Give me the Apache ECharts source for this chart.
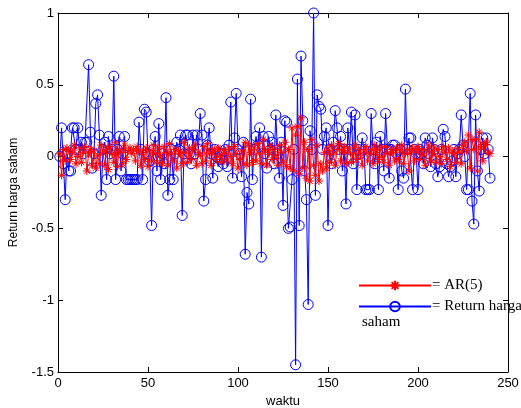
<!DOCTYPE html>
<html>
<head>
<meta charset="utf-8">
<script src="https://cdn.jsdelivr.net/npm/echarts@6/dist/echarts.min.js"></script>
<style>
  html, body { margin: 0; padding: 0; background: #fff; }
  #chart { width: 521px; height: 408px; }
</style>
</head>
<body>
<div id="chart"></div>
<script>
// return harga saham, t = 1..240
const returnHarga = [
  0, 0.2, -0.05, -0.3, 0.02, -0.1, -0.1, 0.2, 0.2, 0.05,
  0.2, 0.05, 0.1, 0.02, 0.1, 0.1, 0.64, 0.17, -0.08, 0.02,
  0.37, 0.43, 0.15, -0.27, 0.05, 0.1, -0.16, 0.14, 0.02, 0.05,
  0.56, -0.16, 0.05, 0.14, -0.1, 0.02, 0.14, -0.16, -0.16, -0.16,
  -0.16, -0.16, -0.16, -0.16, 0.24, 0.05, -0.16, 0.33, 0.31, 0.02,
  -0.03, -0.48, 0.05, 0.14, -0.1, 0.23, -0.16, 0.02, -0.05, 0.41,
  -0.27, -0.16, 0.05, -0.16, 0.02, 0.1, 0.05, 0.15, -0.41, 0.02,
  0.15, 0.15, 0.02, -0.05, 0.15, 0.02, 0.15, 0.05, 0.3, 0.15,
  -0.31, -0.16, 0.08, 0.2, 0.02, -0.15, 0.05, 0.0, -0.07, -0.02,
  0.02, -0.05, 0.05, -0.07, 0.08, 0.38, -0.15, 0.13, 0.44, 0.05,
  0.02, -0.14, 0.1, -0.68, -0.25, -0.33, 0.4, -0.16, 0.05, 0.14,
  0.08, 0.2, -0.7, 0.14, 0.02, -0.08, 0.14, 0.05, 0.1, -0.05,
  0.29, 0.02, -0.15, 0.1, -0.34, 0.25, 0.24, -0.5, -0.49, -0.16,
  0.05, -1.45, 0.54, -0.48, 0.7, 0.25, -0.1, -0.3, -1.03, 0.18,
  0.05, 1.0, -0.27, 0.43, 0.35, 0.33, 0.05, 0.14, 0.2, -0.48,
  0.05, -0.05, 0.1, 0.32, 0.2, 0.05, 0.14, -0.1, 0.05, -0.33,
  0.2, 0.05, 0.31, -0.05, 0.29, -0.23, 0.05, 0.02, 0.13, 0.05,
  -0.23, -0.23, -0.23, 0.3, 0.05, -0.05, 0.1, -0.23, 0.14, 0.05,
  -0.1, 0.3, 0.05, -0.15, 0.05, 0.08, 0.08, 0.02, -0.23, 0.05,
  -0.1, -0.15, 0.47, 0.05, 0.13, 0.13, -0.23, 0.05, 0.02, -0.23,
  0.05, 0.02, -0.05, 0.13, 0.08, 0.02, -0.07, 0.13, 0.05, -0.05,
  -0.14, -0.07, 0.05, 0.19, 0.14, -0.05, -0.14, -0.07, -0.03, 0.05,
  -0.14, 0.02, 0.05, 0.29, 0.08, 0.0, -0.23, -0.23, 0.44, -0.31,
  -0.47, 0.29, -0.1, -0.24, 0.05, 0.13, 0.02, 0.13, 0.05, -0.15
];
// AR(5) fit
const ar5 = [
  0.02, -0.13, 0.05, -0.03, 0.06, 0.04, -0.02, 0.03, 0.08, -0.05,
  0.0, 0.06, -0.04, 0.03, 0.07, -0.1, 0.02, 0.05, -0.06, 0.04,
  -0.08, 0.01, -0.05, 0.08, 0.03, -0.06, 0.05, -0.09, 0.07, 0.02,
  -0.04, 0.1, -0.07, 0.05, 0.03, -0.05, 0.08, -0.02, 0.04, 0.06,
  0.02, 0.05, -0.03, 0.07, 0.04, -0.06, 0.03, -0.02, 0.06, -0.07,
  0.04, -0.03, 0.08, 0.02, -0.04, 0.06, 0.01, -0.05, 0.07, 0.03,
  -0.06, 0.09, 0.02, -0.03, 0.05, -0.08, 0.04, 0.02, -0.05, 0.1,
  0.03, -0.04, 0.06, -0.02, 0.05, 0.08, -0.06, 0.03, 0.01, -0.05,
  0.07, -0.03, 0.09, 0.02, -0.06, 0.04, 0.05, -0.02, 0.06, 0.01,
  -0.04, 0.05, 0.02, -0.03, 0.06, 0.0, -0.05, 0.07, 0.02, -0.08,
  -0.02, 0.04, -0.05, 0.1, -0.06, 0.08, 0.03, -0.04, 0.06, -0.03,
  0.09, 0.02, -0.05, 0.12, 0.04, -0.06, 0.03, 0.07, -0.02, 0.05,
  0.01, -0.06, 0.08, 0.03, -0.04, 0.1, -0.07, 0.05, -0.08, 0.2,
  -0.1, 0.15, 0.21, -0.12, 0.27, -0.08, 0.1, -0.15, 0.05, -0.17,
  0.12, -0.06, -0.13, 0.08, -0.17, -0.05, -0.1, 0.03, -0.08, 0.06,
  -0.04, 0.08, 0.02, -0.06, 0.05, 0.09, -0.03, 0.04, 0.07, -0.05,
  0.03, 0.06, -0.04, 0.02, 0.08, -0.02, 0.05, 0.01, -0.06, 0.04,
  0.07, -0.03, 0.02, 0.05, -0.05, 0.08, 0.03, -0.02, 0.06, 0.0,
  -0.04, 0.07, 0.02, -0.06, 0.05, 0.03, -0.03, 0.06, -0.02, 0.04,
  0.08, -0.05, 0.02, 0.05, -0.1, 0.03, 0.06, -0.03, 0.04, 0.07,
  -0.02, 0.05, 0.01, -0.06, 0.04, 0.08, -0.03, 0.02, 0.06, -0.04,
  0.05, 0.0, -0.05, 0.07, 0.03, -0.02, 0.06, -0.07, 0.04, 0.02,
  -0.04, 0.06, 0.03, -0.05, 0.08, 0.1, 0.04, 0.15, -0.08, 0.12,
  0.05, 0.12, -0.1, 0.17, 0.06, -0.03, 0.08, 0.1, 0.03, 0.02
];
const xTicks = { min: 0, max: 250, interval: 50 };
const yTicks = { min: -1.5, max: 1, interval: 0.5 };

const toPairs = (arr) => arr.map((v, i) => [i + 1, v]);
const star = 'path://M0,-5L0,5M-5,0L5,0M-3.5,-3.5L3.5,3.5M-3.5,3.5L3.5,-3.5';

const chart = echarts.init(document.getElementById('chart'), null, { renderer: 'canvas' });
const sans = 'Liberation Sans, Arial';
const tickFont = { color: '#000', fontFamily: sans, fontSize: 13 };
const boxAxis = {
  axisLine: { show: true, onZero: false, lineStyle: { color: '#000', width: 1 } },
  axisTick: { show: true, inside: true, length: 5, lineStyle: { color: '#000' } },
  splitLine: { show: false },
};

chart.setOption({
  animation: false,
  backgroundColor: '#fff',
  grid: { left: 58, right: 13, top: 13, bottom: 36, outerBoundsMode: 'none', containLabel: false },
  xAxis: [
    Object.assign({
      type: 'value', position: 'bottom', min: xTicks.min, max: xTicks.max, interval: xTicks.interval,
      axisLabel: Object.assign({ margin: 5 }, tickFont),
      name: 'waktu', nameLocation: 'middle', nameGap: 23,
      nameTextStyle: { color: '#000', fontFamily: sans, fontSize: 13 },
    }, boxAxis),
    Object.assign({
      type: 'value', position: 'top', min: xTicks.min, max: xTicks.max, interval: xTicks.interval,
      axisLabel: { show: false },
    }, boxAxis),
  ],
  yAxis: [
    Object.assign({
      type: 'value', position: 'left', min: yTicks.min, max: yTicks.max, interval: yTicks.interval,
      axisLabel: Object.assign({ margin: 4 }, tickFont),
      name: 'Return harga saham', nameLocation: 'middle', nameGap: 38, nameRotate: 90,
      nameTextStyle: { color: '#000', fontFamily: sans, fontSize: 12 },
    }, boxAxis),
    Object.assign({
      type: 'value', position: 'right', min: yTicks.min, max: yTicks.max, interval: yTicks.interval,
      axisLabel: { show: false },
    }, boxAxis),
  ],
  legend: {
    data: ['AR(5)', 'Return harga saham'],
    orient: 'vertical',
    left: 358, top: 278,
    itemWidth: 72, itemHeight: 12, itemGap: 6,
    padding: 0,
    formatter: (name) => name === 'AR(5)' ? '= AR(5)' : '= Return harga',
    textStyle: { color: '#000', fontFamily: 'Liberation Serif, Times New Roman', fontSize: 15, padding: [0, 0, 0, -4] },
  },
  graphic: [{
    type: 'text', left: 362, top: 315,
    style: { text: 'saham', fill: '#000', font: '15px "Liberation Serif", serif' },
  }],
  series: [
    {
      name: 'Return harga saham', type: 'line', data: toPairs(returnHarga),
      symbol: 'circle', symbolSize: 10, showAllSymbol: true,
      lineStyle: { color: '#0000ff', width: 1 },
      itemStyle: { color: 'rgba(0,0,0,0)', borderColor: '#0000ff', borderWidth: 1 },
      z: 2,
    },
    {
      name: 'AR(5)', type: 'line', data: toPairs(ar5),
      symbol: star, symbolSize: 8, showAllSymbol: true,
      lineStyle: { color: '#ff0000', width: 1 },
      itemStyle: { color: 'none', borderColor: '#ff0000', borderWidth: 1 },
      z: 3,
    },
  ],
});
</script>
</body>
</html>
